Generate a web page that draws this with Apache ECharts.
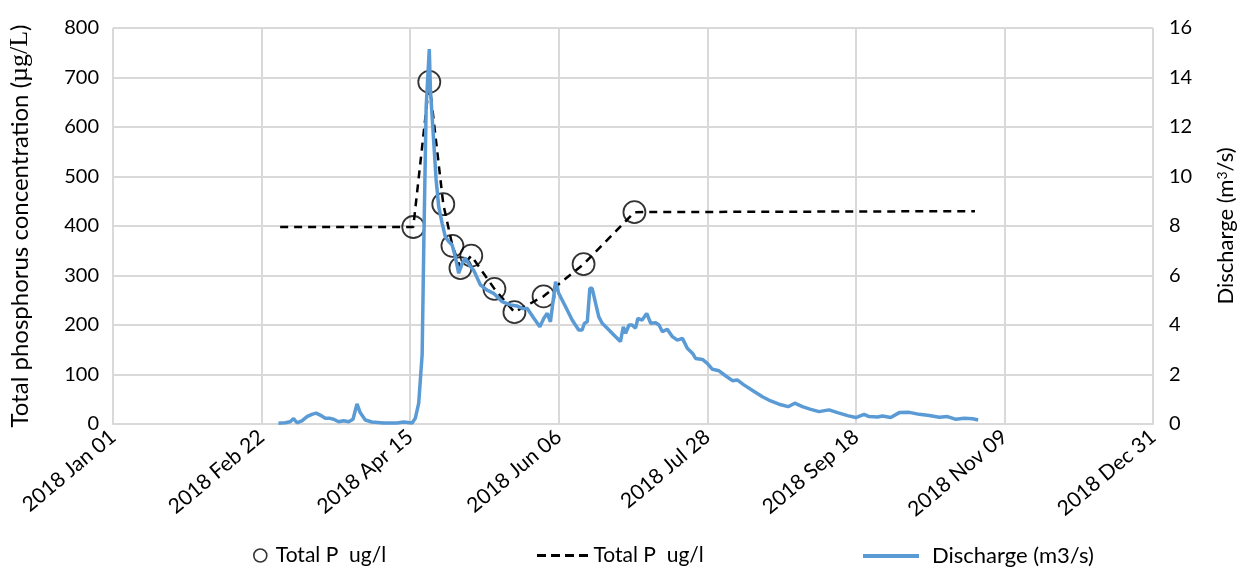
<!DOCTYPE html>
<html>
<head>
<meta charset="utf-8">
<script src="https://cdn.jsdelivr.net/npm/echarts@6/dist/echarts.min.js"></script>
<style>
  html, body { margin: 0; padding: 0; background: #fff; }
  #chart { width: 1246px; height: 569px; }
</style>
</head>
<body>
<div id="chart"></div>
<script>
// Days are counted from 2018 Jan 01 (day 0).
const xTickDays = [0, 52, 104, 156, 208, 260, 312, 364];
const monthNames = ['Jan','Feb','Mar','Apr','May','Jun','Jul','Aug','Sep','Oct','Nov','Dec'];

// Total phosphorus samples (µg/L)
const sampleDays = [105.1, 110.7, 115.6, 118.8, 121.6, 125.4, 133.5, 140.5, 150.7, 164.7, 182.5];
const sampleTP   = [398, 691, 444, 360, 315, 340, 273, 226, 258, 323, 428];

// Dashed profile through the samples, extended to the start and end of the record
const profileDays = [58.5, 105.1, 110.7, 115.6, 118.8, 121.6, 125.4, 133.5, 140.5, 150.7, 164.7, 182.5, 301.7];
const profileTP   = [398, 398, 691, 444, 360, 315, 340, 273, 226, 258, 323, 428, 430];

// Discharge (m3/s)
const dischargeDays = [
  57.9, 60.3, 62.0, 63.2, 64.4, 66.1, 67.9, 69.6, 71.1, 72.5, 74.3, 76.0, 77.2, 79.0, 80.7, 82.5,
  84.0, 85.4, 86.5, 88.3, 90.6, 94.7, 99.4, 101.7, 104.7, 105.8, 107.0, 108.2, 108.8, 109.6, 110.7,
  111.1, 112.2, 113.1, 114.0, 115.2, 116.3, 117.5, 118.7, 119.8, 121.0, 122.2, 123.3, 125.1, 126.2,
  128.6, 130.9, 133.2, 135.0, 136.2, 139.1, 141.4, 143.2, 145.0, 147.3, 149.4, 150.8, 152.0, 153.1,
  154.9, 156.0, 158.4, 160.7, 163.0, 164.2, 165.0, 166.0, 166.9, 167.7, 168.9, 170.0, 171.2, 173.0,
  175.3, 177.6, 178.6, 179.4, 180.6, 181.7, 182.9, 183.7, 185.2, 186.8, 188.2, 189.9, 191.1, 192.3,
  194.0, 195.8, 197.5, 199.3, 201.0, 202.8, 203.9, 206.3, 208.0, 209.8, 212.1, 214.5, 216.8, 218.5,
  220.8, 224.4, 227.3, 230.2, 233.1, 236.3, 238.6, 241.3, 244.2, 247.1, 250.6, 253.6, 257.1, 260.0,
  262.9, 264.6, 267.6, 269.3, 272.2, 275.2, 278.7, 282.2, 285.7, 289.2, 292.1, 295.0, 297.9, 300.9, 302.8
];
const dischargeQ = [
  0.03, 0.05, 0.09, 0.22, 0.05, 0.13, 0.30, 0.39, 0.44, 0.36, 0.23, 0.23, 0.19, 0.09, 0.13, 0.09,
  0.19, 0.81, 0.46, 0.16, 0.08, 0.04, 0.04, 0.08, 0.04, 0.23, 0.84, 2.80, 7.40, 12.8, 15.15,
  13.5, 11.5, 9.86, 8.78, 8.11, 7.57, 7.37, 7.23, 6.76, 6.09, 6.49, 6.70, 6.36, 6.22,
  5.62, 5.41, 5.28, 5.08, 4.94, 4.81, 4.77, 4.67, 4.67, 4.27, 3.93, 4.27, 4.47, 4.13,
  5.75, 5.28, 4.74, 4.20, 3.80, 3.80, 4.07, 4.13, 5.48, 5.48, 4.88, 4.34, 4.07, 3.87,
  3.60, 3.33, 3.93, 3.66, 4.00, 4.00, 3.87, 4.27, 4.20, 4.47, 4.07, 4.09, 4.00, 3.73,
  3.83, 3.53, 3.39, 3.46, 3.06, 2.86, 2.65, 2.61, 2.45, 2.21, 2.15, 1.94, 1.75, 1.78,
  1.58, 1.31, 1.10, 0.93, 0.80, 0.70, 0.84, 0.70, 0.59, 0.50, 0.57, 0.46, 0.34, 0.26,
  0.39, 0.30, 0.28, 0.32, 0.26, 0.46, 0.47, 0.39, 0.34, 0.27, 0.30, 0.19, 0.23, 0.21, 0.16
];

const zip = (xs, ys) => xs.map((x, i) => [x, ys[i]]);

function dayLabel(d) {
  const dt = new Date(Date.UTC(2018, 0, 1) + Math.round(d) * 86400000);
  const dd = String(dt.getUTCDate()).padStart(2, '0');
  return dt.getUTCFullYear() + ' ' + monthNames[dt.getUTCMonth()] + ' ' + dd;
}

const FONT = 'Lato, "Noto Sans", sans-serif';
const SERIF = '"Liberation Serif", "DejaVu Serif", serif';
const TXT = '#000';
const GRID = '#d9d9d9';
const BLUE = '#5b9bd5';

// Legend glyph: four short dashes
const DASH_ICON = 'path://M0,0h9v3h-9z M14,0h9v3h-9z M28,0h9v3h-9z M42,0h9v3h-9z';

const chart = echarts.init(document.getElementById('chart'));
chart.setOption({
  animation: false,
  backgroundColor: '#fff',
  textStyle: { fontFamily: FONT },
  grid: { left: 113, right: 93, top: 28, bottom: 145, containLabel: false, outerBoundsMode: 'none' },
  xAxis: {
    type: 'value',
    min: 0, max: 364, interval: 52,
    axisLine: { lineStyle: { color: GRID, width: 2 } },
    axisTick: { show: false },
    splitLine: { show: true, lineStyle: { color: GRID, width: 2 } },
    axisLabel: {
      rotate: 40, margin: 10, fontSize: 21, color: TXT, fontFamily: FONT,
      formatter: v => xTickDays.includes(v) ? dayLabel(v) : ''
    }
  },
  yAxis: [
    {
      type: 'value', min: 0, max: 800, interval: 100,
      name: 'Total phosphorus concentration ({s|µg/L})',
      nameLocation: 'middle', nameGap: 80,
      nameTextStyle: {
        fontSize: 24, color: TXT, fontFamily: FONT,
        rich: { s: { fontFamily: SERIF, fontSize: 26, color: TXT } }
      },
      axisLine: { show: false }, axisTick: { show: false },
      splitLine: { lineStyle: { color: GRID, width: 2 } },
      axisLabel: { fontSize: 20, color: TXT, margin: 14, fontFamily: FONT }
    },
    {
      type: 'value', min: 0, max: 16, interval: 2,
      name: 'Discharge (m{sup|3}/s)',
      nameLocation: 'middle', nameGap: 62, nameRotate: 90,
      nameTextStyle: {
        fontSize: 22, color: TXT, fontFamily: FONT,
        rich: { sup: { fontSize: 14, verticalAlign: 'top', lineHeight: 12, color: TXT, fontFamily: FONT } }
      },
      axisLine: { show: false }, axisTick: { show: false },
      splitLine: { show: false },
      axisLabel: { fontSize: 20, color: TXT, margin: 16, fontFamily: FONT }
    }
  ],
  legend: [
    {
      data: [{ name: 'Total P  ug/l', icon: 'circle',
               itemStyle: { color: 'rgba(0,0,0,0)', borderColor: '#000', borderWidth: 1.6 } }],
      left: 248, top: 540,
      itemWidth: 13, itemHeight: 16,
      textStyle: { fontSize: 21, color: TXT, fontFamily: FONT, padding: [0, 0, 0, 4] }
    },
    {
      data: [{ name: 'Total P  ug/l ', icon: DASH_ICON, itemStyle: { color: '#000' } }],
      left: 532, top: 540,
      itemWidth: 52, itemHeight: 3,
      textStyle: { fontSize: 21, color: TXT, fontFamily: FONT, padding: [0, 0, 0, 0] }
    },
    {
      data: [{ name: 'Discharge (m3/s)', icon: 'rect', itemStyle: { color: BLUE } }],
      left: 858, top: 540,
      itemWidth: 56, itemHeight: 4,
      textStyle: { fontSize: 22, color: TXT, fontFamily: FONT, padding: [0, 0, 0, 8] }
    }
  ],
  series: [
    {
      name: 'Total P  ug/l ',
      type: 'line',
      yAxisIndex: 0,
      data: zip(profileDays, profileTP),
      showSymbol: false,
      symbol: 'none',
      lineStyle: { color: '#000', width: 2.5, type: [8, 6] },
      itemStyle: { color: '#000' },
      z: 2
    },
    {
      name: 'Total P  ug/l',
      type: 'scatter',
      yAxisIndex: 0,
      data: zip(sampleDays, sampleTP),
      symbol: 'circle',
      symbolSize: 22,
      itemStyle: { color: 'rgba(0,0,0,0)', borderColor: '#000', borderWidth: 1.8 },
      z: 3
    },
    {
      name: 'Discharge (m3/s)',
      type: 'line',
      yAxisIndex: 1,
      data: zip(dischargeDays, dischargeQ),
      showSymbol: false,
      symbol: 'none',
      lineStyle: { color: BLUE, width: 3.5 },
      itemStyle: { color: BLUE },
      z: 4
    }
  ]
});
</script>
</body>
</html>
